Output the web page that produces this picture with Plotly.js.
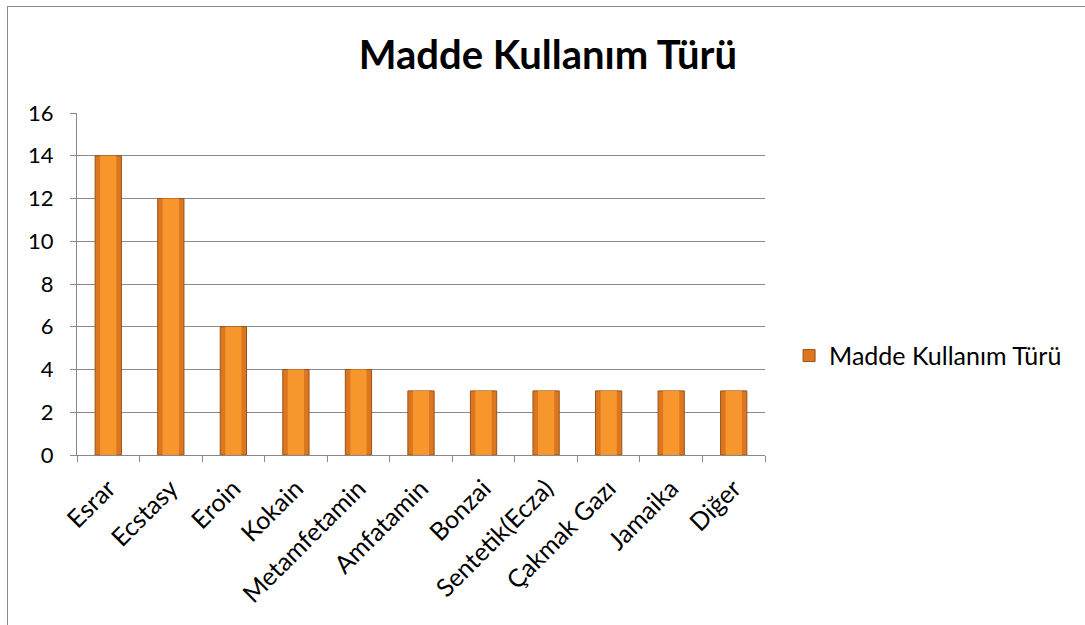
<!DOCTYPE html>
<html>
<head>
<meta charset="utf-8">
<script src="https://cdn.plot.ly/plotly-3.0.1.min.js"></script>
<style>
  html, body { margin: 0; padding: 0; background: #fff; }
  #frame { position: absolute; left: 7px; top: 6px; width: 1200px; height: 700px; border: 1.5px solid #8c8c8c; }
  #chart { position: absolute; left: 0; top: 0; width: 1085px; height: 625px; }
</style>
</head>
<body>
<div id="frame"></div>
<div id="chart"></div>
<script>
const categories = ["Esrar", "Ecstasy", "Eroin", "Kokain", "Metamfetamin", "Amfatamin", "Bonzai", "Sentetik(Ecza)", "Çakmak Gazı", "Jamaika", "Diğer"];
const values = [14, 12, 6, 4, 4, 3, 3, 3, 3, 3, 3];
const seriesName = "Madde Kullanım Türü";
const chartTitle = "Madde Kullanım Türü";
const yTicks = [0, 2, 4, 6, 8, 10, 12, 14, 16];

const font = "Lato, 'Open Sans', 'DejaVu Sans', sans-serif";

const base = {
  type: "bar", x: categories, y: values, name: seriesName,
  width: 0.42,
  marker: { color: "#DC761F", line: { color: "#9A5217", width: 1 } },
  hoverinfo: "x+y"
};
const shine = {
  type: "bar", x: categories, y: values, name: seriesName,
  width: 0.26, showlegend: false, hoverinfo: "skip",
  marker: { color: "#F8962E", line: { width: 0 } }
};

const layout = {
  width: 1085, height: 625,
  paper_bgcolor: "rgba(0,0,0,0)", plot_bgcolor: "rgba(0,0,0,0)",
  margin: { l: 77, r: 320, t: 113, b: 170 },
  barmode: "overlay",
  font: { family: font, size: 22, color: "#000" },
  title: { text: chartTitle, font: { family: font, size: 40, color: "#000", weight: "bold" },
           xref: "container", x: 0.505, yref: "container", y: 0.912, yanchor: "middle" },
  xaxis: {
    type: "category", tickangle: -45, tickson: "boundaries", automargin: false,
    ticks: "outside", ticklen: 6, tickcolor: "#888", ticklabelstandoff: 8,
    showline: true, linecolor: "#888", linewidth: 1,
    showgrid: false, tickfont: { size: 25 }
  },
  yaxis: {
    range: [0, 16], tickvals: yTicks, ticks: "outside", ticklen: 6, tickcolor: "#888", automargin: false,
    ticklabelstandoff: 12,
    showline: true, linecolor: "#888", linewidth: 1,
    showgrid: true, gridcolor: "#8a8a8a", gridwidth: 1, zeroline: false,
    tickfont: { size: 22 }
  },
  legend: { x: 1.035, xanchor: "left", y: 0.29, yanchor: "middle", font: { size: 25 },
            bgcolor: "rgba(0,0,0,0)", itemwidth: 30 },
  showlegend: true
};

Plotly.newPlot("chart", [base, shine], layout, { displayModeBar: false, staticPlot: true });
</script>
</body>
</html>
